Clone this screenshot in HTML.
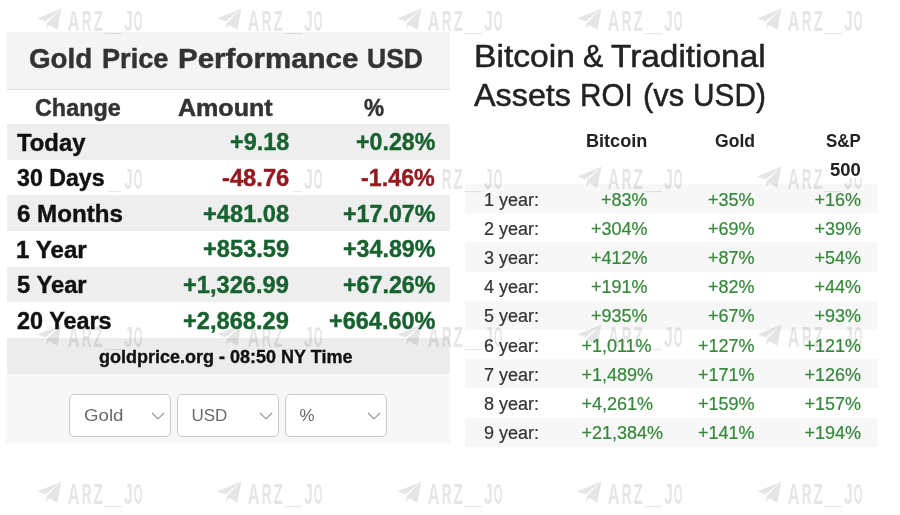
<!DOCTYPE html>
<html><head><meta charset="utf-8">
<style>
*{margin:0;padding:0;box-sizing:border-box}
html,body{width:900px;height:515px;overflow:hidden;background:#fff}
body{position:relative;font-family:"Liberation Sans",Arial,sans-serif}
.a{position:absolute;white-space:nowrap;line-height:20px}
.box{position:absolute}
.lh{left:7px;top:32px;width:443px;height:58px;background:#f4f4f4;border-bottom:1px solid #dcdcdc}
.lt{font-weight:bold;color:#333;-webkit-text-stroke:0.45px #333}
.band{left:7px;width:443px;background:#eeeeee}
.lab{font-weight:bold;color:#111;font-size:23.5px;-webkit-text-stroke:0.4px #111}
.g{color:#17622e;-webkit-text-stroke:0.4px #17622e}
.r{color:#951a20;-webkit-text-stroke:0.4px #951a20}
.num{font-weight:bold;font-size:23.5px;text-align:right}
.sel{position:absolute;top:394px;width:102px;height:43px;background:#fff;border:1px solid #c8c8c8;border-radius:5px}
.sel span{position:absolute;left:13.5px;top:10.5px;font-size:17px;line-height:20px;color:#6a6a6a}
.sel svg{position:absolute;right:5px;top:17px}
.rt{font-size:32px;color:#222;-webkit-text-stroke:0.5px #222}
.rh{font-weight:bold;font-size:17.5px;color:#222;text-align:right}
.rb{left:465px;width:413px;background:#f7f7f7}
.rl{font-size:18px;color:#333;-webkit-text-stroke:0.2px #333}
.rv{font-size:18px;color:#35883a;text-align:right;-webkit-text-stroke:0.2px #35883a}
.rvl{font-size:18px;color:#35883a;-webkit-text-stroke:0.2px #35883a}
.wm{position:absolute;fill:rgba(0,0,0,0.1);font-family:"Liberation Sans",Arial,sans-serif;font-weight:bold;font-size:28.6px}
</style></head><body>
<div class="box lh"></div>
<div class="box band" style="top:124.0px;height:35.7px"></div>
<div class="box band" style="top:195.4px;height:35.7px"></div>
<div class="box band" style="top:266.8px;height:35.7px"></div>
<div class="box" style="left:7px;top:338px;width:443px;height:36px;background:#ececec"></div>
<div class="box" style="left:6px;top:374px;width:444px;height:69px;background:#f7f7f7"></div>
<div class="box rb" style="top:184.0px;height:29.2px"></div>
<div class="box rb" style="top:242.4px;height:29.2px"></div>
<div class="box rb" style="top:300.8px;height:29.2px"></div>
<div class="box rb" style="top:359.2px;height:29.2px"></div>
<div class="box rb" style="top:417.6px;height:29.2px"></div>
<svg class="wm" style="left:34px;top:6.3px" width="112" height="32" viewBox="0 0 112 32"><path d="M27.5 2.6 L3.2 12.5 L11.5 15.5 Z M27.5 2.6 L13 16.8 L12 23 L15.5 19 L23.4 24 Z"/><text x="33.7" y="24.6" textLength="11.7" lengthAdjust="spacingAndGlyphs">A</text><text x="47.8" y="24.6" textLength="9.8" lengthAdjust="spacingAndGlyphs">R</text><text x="59.5" y="24.6" textLength="9.3" lengthAdjust="spacingAndGlyphs">Z</text><text x="71.1" y="25.0" textLength="16.3" lengthAdjust="spacingAndGlyphs">_</text><text x="89.9" y="24.6" textLength="8.8" lengthAdjust="spacingAndGlyphs">J</text><text x="99.7" y="24.6" textLength="8.8" lengthAdjust="spacingAndGlyphs">O</text></svg>
<svg class="wm" style="left:214px;top:6.3px" width="112" height="32" viewBox="0 0 112 32"><path d="M27.5 2.6 L3.2 12.5 L11.5 15.5 Z M27.5 2.6 L13 16.8 L12 23 L15.5 19 L23.4 24 Z"/><text x="33.7" y="24.6" textLength="11.7" lengthAdjust="spacingAndGlyphs">A</text><text x="47.8" y="24.6" textLength="9.8" lengthAdjust="spacingAndGlyphs">R</text><text x="59.5" y="24.6" textLength="9.3" lengthAdjust="spacingAndGlyphs">Z</text><text x="71.1" y="25.0" textLength="16.3" lengthAdjust="spacingAndGlyphs">_</text><text x="89.9" y="24.6" textLength="8.8" lengthAdjust="spacingAndGlyphs">J</text><text x="99.7" y="24.6" textLength="8.8" lengthAdjust="spacingAndGlyphs">O</text></svg>
<svg class="wm" style="left:394px;top:6.3px" width="112" height="32" viewBox="0 0 112 32"><path d="M27.5 2.6 L3.2 12.5 L11.5 15.5 Z M27.5 2.6 L13 16.8 L12 23 L15.5 19 L23.4 24 Z"/><text x="33.7" y="24.6" textLength="11.7" lengthAdjust="spacingAndGlyphs">A</text><text x="47.8" y="24.6" textLength="9.8" lengthAdjust="spacingAndGlyphs">R</text><text x="59.5" y="24.6" textLength="9.3" lengthAdjust="spacingAndGlyphs">Z</text><text x="71.1" y="25.0" textLength="16.3" lengthAdjust="spacingAndGlyphs">_</text><text x="89.9" y="24.6" textLength="8.8" lengthAdjust="spacingAndGlyphs">J</text><text x="99.7" y="24.6" textLength="8.8" lengthAdjust="spacingAndGlyphs">O</text></svg>
<svg class="wm" style="left:574px;top:6.3px" width="112" height="32" viewBox="0 0 112 32"><path d="M27.5 2.6 L3.2 12.5 L11.5 15.5 Z M27.5 2.6 L13 16.8 L12 23 L15.5 19 L23.4 24 Z"/><text x="33.7" y="24.6" textLength="11.7" lengthAdjust="spacingAndGlyphs">A</text><text x="47.8" y="24.6" textLength="9.8" lengthAdjust="spacingAndGlyphs">R</text><text x="59.5" y="24.6" textLength="9.3" lengthAdjust="spacingAndGlyphs">Z</text><text x="71.1" y="25.0" textLength="16.3" lengthAdjust="spacingAndGlyphs">_</text><text x="89.9" y="24.6" textLength="8.8" lengthAdjust="spacingAndGlyphs">J</text><text x="99.7" y="24.6" textLength="8.8" lengthAdjust="spacingAndGlyphs">O</text></svg>
<svg class="wm" style="left:754px;top:6.3px" width="112" height="32" viewBox="0 0 112 32"><path d="M27.5 2.6 L3.2 12.5 L11.5 15.5 Z M27.5 2.6 L13 16.8 L12 23 L15.5 19 L23.4 24 Z"/><text x="33.7" y="24.6" textLength="11.7" lengthAdjust="spacingAndGlyphs">A</text><text x="47.8" y="24.6" textLength="9.8" lengthAdjust="spacingAndGlyphs">R</text><text x="59.5" y="24.6" textLength="9.3" lengthAdjust="spacingAndGlyphs">Z</text><text x="71.1" y="25.0" textLength="16.3" lengthAdjust="spacingAndGlyphs">_</text><text x="89.9" y="24.6" textLength="8.8" lengthAdjust="spacingAndGlyphs">J</text><text x="99.7" y="24.6" textLength="8.8" lengthAdjust="spacingAndGlyphs">O</text></svg>
<svg class="wm" style="left:34px;top:164.0px" width="112" height="32" viewBox="0 0 112 32"><path d="M27.5 2.6 L3.2 12.5 L11.5 15.5 Z M27.5 2.6 L13 16.8 L12 23 L15.5 19 L23.4 24 Z"/><text x="33.7" y="24.6" textLength="11.7" lengthAdjust="spacingAndGlyphs">A</text><text x="47.8" y="24.6" textLength="9.8" lengthAdjust="spacingAndGlyphs">R</text><text x="59.5" y="24.6" textLength="9.3" lengthAdjust="spacingAndGlyphs">Z</text><text x="71.1" y="25.0" textLength="16.3" lengthAdjust="spacingAndGlyphs">_</text><text x="89.9" y="24.6" textLength="8.8" lengthAdjust="spacingAndGlyphs">J</text><text x="99.7" y="24.6" textLength="8.8" lengthAdjust="spacingAndGlyphs">O</text></svg>
<svg class="wm" style="left:214px;top:164.0px" width="112" height="32" viewBox="0 0 112 32"><path d="M27.5 2.6 L3.2 12.5 L11.5 15.5 Z M27.5 2.6 L13 16.8 L12 23 L15.5 19 L23.4 24 Z"/><text x="33.7" y="24.6" textLength="11.7" lengthAdjust="spacingAndGlyphs">A</text><text x="47.8" y="24.6" textLength="9.8" lengthAdjust="spacingAndGlyphs">R</text><text x="59.5" y="24.6" textLength="9.3" lengthAdjust="spacingAndGlyphs">Z</text><text x="71.1" y="25.0" textLength="16.3" lengthAdjust="spacingAndGlyphs">_</text><text x="89.9" y="24.6" textLength="8.8" lengthAdjust="spacingAndGlyphs">J</text><text x="99.7" y="24.6" textLength="8.8" lengthAdjust="spacingAndGlyphs">O</text></svg>
<svg class="wm" style="left:394px;top:164.0px" width="112" height="32" viewBox="0 0 112 32"><path d="M27.5 2.6 L3.2 12.5 L11.5 15.5 Z M27.5 2.6 L13 16.8 L12 23 L15.5 19 L23.4 24 Z"/><text x="33.7" y="24.6" textLength="11.7" lengthAdjust="spacingAndGlyphs">A</text><text x="47.8" y="24.6" textLength="9.8" lengthAdjust="spacingAndGlyphs">R</text><text x="59.5" y="24.6" textLength="9.3" lengthAdjust="spacingAndGlyphs">Z</text><text x="71.1" y="25.0" textLength="16.3" lengthAdjust="spacingAndGlyphs">_</text><text x="89.9" y="24.6" textLength="8.8" lengthAdjust="spacingAndGlyphs">J</text><text x="99.7" y="24.6" textLength="8.8" lengthAdjust="spacingAndGlyphs">O</text></svg>
<svg class="wm" style="left:574px;top:164.0px" width="112" height="32" viewBox="0 0 112 32"><path d="M27.5 2.6 L3.2 12.5 L11.5 15.5 Z M27.5 2.6 L13 16.8 L12 23 L15.5 19 L23.4 24 Z"/><text x="33.7" y="24.6" textLength="11.7" lengthAdjust="spacingAndGlyphs">A</text><text x="47.8" y="24.6" textLength="9.8" lengthAdjust="spacingAndGlyphs">R</text><text x="59.5" y="24.6" textLength="9.3" lengthAdjust="spacingAndGlyphs">Z</text><text x="71.1" y="25.0" textLength="16.3" lengthAdjust="spacingAndGlyphs">_</text><text x="89.9" y="24.6" textLength="8.8" lengthAdjust="spacingAndGlyphs">J</text><text x="99.7" y="24.6" textLength="8.8" lengthAdjust="spacingAndGlyphs">O</text></svg>
<svg class="wm" style="left:754px;top:164.0px" width="112" height="32" viewBox="0 0 112 32"><path d="M27.5 2.6 L3.2 12.5 L11.5 15.5 Z M27.5 2.6 L13 16.8 L12 23 L15.5 19 L23.4 24 Z"/><text x="33.7" y="24.6" textLength="11.7" lengthAdjust="spacingAndGlyphs">A</text><text x="47.8" y="24.6" textLength="9.8" lengthAdjust="spacingAndGlyphs">R</text><text x="59.5" y="24.6" textLength="9.3" lengthAdjust="spacingAndGlyphs">Z</text><text x="71.1" y="25.0" textLength="16.3" lengthAdjust="spacingAndGlyphs">_</text><text x="89.9" y="24.6" textLength="8.8" lengthAdjust="spacingAndGlyphs">J</text><text x="99.7" y="24.6" textLength="8.8" lengthAdjust="spacingAndGlyphs">O</text></svg>
<svg class="wm" style="left:34px;top:321.7px" width="112" height="32" viewBox="0 0 112 32"><path d="M27.5 2.6 L3.2 12.5 L11.5 15.5 Z M27.5 2.6 L13 16.8 L12 23 L15.5 19 L23.4 24 Z"/><text x="33.7" y="24.6" textLength="11.7" lengthAdjust="spacingAndGlyphs">A</text><text x="47.8" y="24.6" textLength="9.8" lengthAdjust="spacingAndGlyphs">R</text><text x="59.5" y="24.6" textLength="9.3" lengthAdjust="spacingAndGlyphs">Z</text><text x="71.1" y="25.0" textLength="16.3" lengthAdjust="spacingAndGlyphs">_</text><text x="89.9" y="24.6" textLength="8.8" lengthAdjust="spacingAndGlyphs">J</text><text x="99.7" y="24.6" textLength="8.8" lengthAdjust="spacingAndGlyphs">O</text></svg>
<svg class="wm" style="left:214px;top:321.7px" width="112" height="32" viewBox="0 0 112 32"><path d="M27.5 2.6 L3.2 12.5 L11.5 15.5 Z M27.5 2.6 L13 16.8 L12 23 L15.5 19 L23.4 24 Z"/><text x="33.7" y="24.6" textLength="11.7" lengthAdjust="spacingAndGlyphs">A</text><text x="47.8" y="24.6" textLength="9.8" lengthAdjust="spacingAndGlyphs">R</text><text x="59.5" y="24.6" textLength="9.3" lengthAdjust="spacingAndGlyphs">Z</text><text x="71.1" y="25.0" textLength="16.3" lengthAdjust="spacingAndGlyphs">_</text><text x="89.9" y="24.6" textLength="8.8" lengthAdjust="spacingAndGlyphs">J</text><text x="99.7" y="24.6" textLength="8.8" lengthAdjust="spacingAndGlyphs">O</text></svg>
<svg class="wm" style="left:394px;top:321.7px" width="112" height="32" viewBox="0 0 112 32"><path d="M27.5 2.6 L3.2 12.5 L11.5 15.5 Z M27.5 2.6 L13 16.8 L12 23 L15.5 19 L23.4 24 Z"/><text x="33.7" y="24.6" textLength="11.7" lengthAdjust="spacingAndGlyphs">A</text><text x="47.8" y="24.6" textLength="9.8" lengthAdjust="spacingAndGlyphs">R</text><text x="59.5" y="24.6" textLength="9.3" lengthAdjust="spacingAndGlyphs">Z</text><text x="71.1" y="25.0" textLength="16.3" lengthAdjust="spacingAndGlyphs">_</text><text x="89.9" y="24.6" textLength="8.8" lengthAdjust="spacingAndGlyphs">J</text><text x="99.7" y="24.6" textLength="8.8" lengthAdjust="spacingAndGlyphs">O</text></svg>
<svg class="wm" style="left:574px;top:321.7px" width="112" height="32" viewBox="0 0 112 32"><path d="M27.5 2.6 L3.2 12.5 L11.5 15.5 Z M27.5 2.6 L13 16.8 L12 23 L15.5 19 L23.4 24 Z"/><text x="33.7" y="24.6" textLength="11.7" lengthAdjust="spacingAndGlyphs">A</text><text x="47.8" y="24.6" textLength="9.8" lengthAdjust="spacingAndGlyphs">R</text><text x="59.5" y="24.6" textLength="9.3" lengthAdjust="spacingAndGlyphs">Z</text><text x="71.1" y="25.0" textLength="16.3" lengthAdjust="spacingAndGlyphs">_</text><text x="89.9" y="24.6" textLength="8.8" lengthAdjust="spacingAndGlyphs">J</text><text x="99.7" y="24.6" textLength="8.8" lengthAdjust="spacingAndGlyphs">O</text></svg>
<svg class="wm" style="left:754px;top:321.7px" width="112" height="32" viewBox="0 0 112 32"><path d="M27.5 2.6 L3.2 12.5 L11.5 15.5 Z M27.5 2.6 L13 16.8 L12 23 L15.5 19 L23.4 24 Z"/><text x="33.7" y="24.6" textLength="11.7" lengthAdjust="spacingAndGlyphs">A</text><text x="47.8" y="24.6" textLength="9.8" lengthAdjust="spacingAndGlyphs">R</text><text x="59.5" y="24.6" textLength="9.3" lengthAdjust="spacingAndGlyphs">Z</text><text x="71.1" y="25.0" textLength="16.3" lengthAdjust="spacingAndGlyphs">_</text><text x="89.9" y="24.6" textLength="8.8" lengthAdjust="spacingAndGlyphs">J</text><text x="99.7" y="24.6" textLength="8.8" lengthAdjust="spacingAndGlyphs">O</text></svg>
<svg class="wm" style="left:34px;top:479.4px" width="112" height="32" viewBox="0 0 112 32"><path d="M27.5 2.6 L3.2 12.5 L11.5 15.5 Z M27.5 2.6 L13 16.8 L12 23 L15.5 19 L23.4 24 Z"/><text x="33.7" y="24.6" textLength="11.7" lengthAdjust="spacingAndGlyphs">A</text><text x="47.8" y="24.6" textLength="9.8" lengthAdjust="spacingAndGlyphs">R</text><text x="59.5" y="24.6" textLength="9.3" lengthAdjust="spacingAndGlyphs">Z</text><text x="71.1" y="25.0" textLength="16.3" lengthAdjust="spacingAndGlyphs">_</text><text x="89.9" y="24.6" textLength="8.8" lengthAdjust="spacingAndGlyphs">J</text><text x="99.7" y="24.6" textLength="8.8" lengthAdjust="spacingAndGlyphs">O</text></svg>
<svg class="wm" style="left:214px;top:479.4px" width="112" height="32" viewBox="0 0 112 32"><path d="M27.5 2.6 L3.2 12.5 L11.5 15.5 Z M27.5 2.6 L13 16.8 L12 23 L15.5 19 L23.4 24 Z"/><text x="33.7" y="24.6" textLength="11.7" lengthAdjust="spacingAndGlyphs">A</text><text x="47.8" y="24.6" textLength="9.8" lengthAdjust="spacingAndGlyphs">R</text><text x="59.5" y="24.6" textLength="9.3" lengthAdjust="spacingAndGlyphs">Z</text><text x="71.1" y="25.0" textLength="16.3" lengthAdjust="spacingAndGlyphs">_</text><text x="89.9" y="24.6" textLength="8.8" lengthAdjust="spacingAndGlyphs">J</text><text x="99.7" y="24.6" textLength="8.8" lengthAdjust="spacingAndGlyphs">O</text></svg>
<svg class="wm" style="left:394px;top:479.4px" width="112" height="32" viewBox="0 0 112 32"><path d="M27.5 2.6 L3.2 12.5 L11.5 15.5 Z M27.5 2.6 L13 16.8 L12 23 L15.5 19 L23.4 24 Z"/><text x="33.7" y="24.6" textLength="11.7" lengthAdjust="spacingAndGlyphs">A</text><text x="47.8" y="24.6" textLength="9.8" lengthAdjust="spacingAndGlyphs">R</text><text x="59.5" y="24.6" textLength="9.3" lengthAdjust="spacingAndGlyphs">Z</text><text x="71.1" y="25.0" textLength="16.3" lengthAdjust="spacingAndGlyphs">_</text><text x="89.9" y="24.6" textLength="8.8" lengthAdjust="spacingAndGlyphs">J</text><text x="99.7" y="24.6" textLength="8.8" lengthAdjust="spacingAndGlyphs">O</text></svg>
<svg class="wm" style="left:574px;top:479.4px" width="112" height="32" viewBox="0 0 112 32"><path d="M27.5 2.6 L3.2 12.5 L11.5 15.5 Z M27.5 2.6 L13 16.8 L12 23 L15.5 19 L23.4 24 Z"/><text x="33.7" y="24.6" textLength="11.7" lengthAdjust="spacingAndGlyphs">A</text><text x="47.8" y="24.6" textLength="9.8" lengthAdjust="spacingAndGlyphs">R</text><text x="59.5" y="24.6" textLength="9.3" lengthAdjust="spacingAndGlyphs">Z</text><text x="71.1" y="25.0" textLength="16.3" lengthAdjust="spacingAndGlyphs">_</text><text x="89.9" y="24.6" textLength="8.8" lengthAdjust="spacingAndGlyphs">J</text><text x="99.7" y="24.6" textLength="8.8" lengthAdjust="spacingAndGlyphs">O</text></svg>
<svg class="wm" style="left:754px;top:479.4px" width="112" height="32" viewBox="0 0 112 32"><path d="M27.5 2.6 L3.2 12.5 L11.5 15.5 Z M27.5 2.6 L13 16.8 L12 23 L15.5 19 L23.4 24 Z"/><text x="33.7" y="24.6" textLength="11.7" lengthAdjust="spacingAndGlyphs">A</text><text x="47.8" y="24.6" textLength="9.8" lengthAdjust="spacingAndGlyphs">R</text><text x="59.5" y="24.6" textLength="9.3" lengthAdjust="spacingAndGlyphs">Z</text><text x="71.1" y="25.0" textLength="16.3" lengthAdjust="spacingAndGlyphs">_</text><text x="89.9" y="24.6" textLength="8.8" lengthAdjust="spacingAndGlyphs">J</text><text x="99.7" y="24.6" textLength="8.8" lengthAdjust="spacingAndGlyphs">O</text></svg>
<div class="box" style="left:14px;top:160px;width:94px;height:34px;background:#fff"></div>
<div class="box" style="left:212px;top:160px;width:81px;height:34px;background:#fff"></div>
<div class="box" style="left:355px;top:160px;width:84px;height:34px;background:#fff"></div>
<div class="box" style="left:824px;top:158px;width:42px;height:20px;background:#fff"></div>
<div class="a lt" style="left:29.28px;top:48.70px;font-size:27.1px;font-weight:bold;transform:scaleX(1.0245);transform-origin:0 0;">Gold</div>
<div class="a lt" style="left:101.70px;top:48.70px;font-size:27.1px;font-weight:bold;transform:scaleX(1.0014);transform-origin:0 0;">Price</div>
<div class="a lt" style="left:177.81px;top:48.70px;font-size:27.1px;font-weight:bold;transform:scaleX(1.0889);transform-origin:0 0;">Performance</div>
<div class="a lt" style="left:366.92px;top:48.70px;font-size:27.1px;font-weight:bold;transform:scaleX(0.9796);transform-origin:0 0;">USD</div>
<div class="a lt" style="left:35.00px;top:97.50px;font-size:23.5px;font-weight:bold;transform:scaleX(0.9941);transform-origin:0 0;">Change</div>
<div class="a lt" style="left:177.90px;top:97.80px;font-size:23.5px;font-weight:bold;transform:scaleX(1.0660);transform-origin:0 0;">Amount</div>
<div class="a lt" style="left:363.80px;top:97.80px;font-size:23.5px;font-weight:bold;transform:scaleX(0.9619);transform-origin:0 0;">%</div>
<div class="a lab" style="left:16.70px;top:132.60px;font-size:23.5px;font-weight:bold;transform:scaleX(1.0150);transform-origin:0 0;">Today</div>
<div class="a num g" style="left:229.70px;top:132.10px;font-size:23.5px;font-weight:bold;transform:scaleX(0.9985);transform-origin:0 0;">+9.18</div>
<div class="a num g" style="left:355.80px;top:132.10px;font-size:23.5px;font-weight:bold;transform:scaleX(0.9868);transform-origin:0 0;">+0.28%</div>
<div class="a lab" style="left:16.70px;top:168.30px;font-size:23.5px;font-weight:bold;transform:scaleX(0.9867);transform-origin:0 0;">30 Days</div>
<div class="a num r" style="left:221.80px;top:167.80px;font-size:23.5px;font-weight:bold;transform:scaleX(1.0096);transform-origin:0 0;">-48.76</div>
<div class="a num r" style="left:361.30px;top:167.80px;font-size:23.5px;font-weight:bold;transform:scaleX(0.9911);transform-origin:0 0;">-1.46%</div>
<div class="a lab" style="left:16.70px;top:204.00px;font-size:23.5px;font-weight:bold;transform:scaleX(1.0265);transform-origin:0 0;">6 Months</div>
<div class="a num g" style="left:202.90px;top:203.50px;font-size:23.5px;font-weight:bold;transform:scaleX(1.0067);transform-origin:0 0;">+481.08</div>
<div class="a num g" style="left:342.70px;top:203.50px;font-size:23.5px;font-weight:bold;transform:scaleX(0.9890);transform-origin:0 0;">+17.07%</div>
<div class="a lab" style="left:15.67px;top:239.70px;font-size:23.5px;font-weight:bold;transform:scaleX(1.0277);transform-origin:0 0;">1 Year</div>
<div class="a num g" style="left:202.90px;top:239.20px;font-size:23.5px;font-weight:bold;transform:scaleX(1.0067);transform-origin:0 0;">+853.59</div>
<div class="a num g" style="left:342.70px;top:239.20px;font-size:23.5px;font-weight:bold;transform:scaleX(0.9890);transform-origin:0 0;">+34.89%</div>
<div class="a lab" style="left:16.70px;top:275.40px;font-size:23.5px;font-weight:bold;transform:scaleX(1.0114);transform-origin:0 0;">5 Year</div>
<div class="a num g" style="left:183.30px;top:274.90px;font-size:23.5px;font-weight:bold;transform:scaleX(1.0054);transform-origin:0 0;">+1,326.99</div>
<div class="a num g" style="left:342.70px;top:274.90px;font-size:23.5px;font-weight:bold;transform:scaleX(0.9890);transform-origin:0 0;">+67.26%</div>
<div class="a lab" style="left:16.70px;top:311.10px;font-size:23.5px;font-weight:bold;transform:scaleX(0.9965);transform-origin:0 0;">20 Years</div>
<div class="a num g" style="left:183.30px;top:310.60px;font-size:23.5px;font-weight:bold;transform:scaleX(1.0054);transform-origin:0 0;">+2,868.29</div>
<div class="a num g" style="left:328.70px;top:310.60px;font-size:23.5px;font-weight:bold;transform:scaleX(0.9991);transform-origin:0 0;">+664.60%</div>
<div class="a" style="left:99px;top:346.8px;font-size:18px;font-weight:bold;color:#111;-webkit-text-stroke:0.35px #111">goldprice.org - 08:50 NY Time</div>
<div class="sel" style="left:69px"><span style="transform:scaleX(1.1);transform-origin:0 0">Gold</span><svg width="14" height="9" viewBox="0 0 14 9"><path d="M1 1 L7 7 L13 1" fill="none" stroke="#999" stroke-width="1.2"/></svg></div>
<div class="sel" style="left:177px"><span>USD</span><svg width="14" height="9" viewBox="0 0 14 9"><path d="M1 1 L7 7 L13 1" fill="none" stroke="#999" stroke-width="1.2"/></svg></div>
<div class="sel" style="left:285px"><span>%</span><svg width="14" height="9" viewBox="0 0 14 9"><path d="M1 1 L7 7 L13 1" fill="none" stroke="#999" stroke-width="1.2"/></svg></div>
<div class="a rt" style="left:473.60px;top:46.30px;font-size:32px;font-weight:normal;transform:scaleX(1.0504);transform-origin:0 0;">Bitcoin</div>
<div class="a rt" style="left:582.85px;top:46.30px;font-size:32px;font-weight:normal;transform:scaleX(0.9500);transform-origin:0 0;">&amp;</div>
<div class="a rt" style="left:611.40px;top:46.30px;font-size:32px;font-weight:normal;transform:scaleX(1.0431);transform-origin:0 0;">Traditional</div>
<div class="a rt" style="left:473.90px;top:85.40px;font-size:32px;font-weight:normal;transform:scaleX(1.0102);transform-origin:0 0;">Assets</div>
<div class="a rt" style="left:580.45px;top:85.40px;font-size:32px;font-weight:normal;transform:scaleX(0.9250);transform-origin:0 0;">ROI</div>
<div class="a rt" style="left:642.84px;top:85.40px;font-size:32px;font-weight:normal;transform:scaleX(0.9617);transform-origin:0 0;">(vs</div>
<div class="a rt" style="left:692.54px;top:85.40px;font-size:32px;font-weight:normal;transform:scaleX(0.9308);transform-origin:0 0;">USD)</div>
<div class="a rh" style="left:586.47px;top:131.30px;font-size:17.5px;font-weight:bold;transform:scaleX(1.0328);transform-origin:0 0;">Bitcoin</div>
<div class="a rh" style="left:715.10px;top:131.30px;font-size:17.5px;font-weight:bold;transform:scaleX(1.0035);transform-origin:0 0;">Gold</div>
<div class="a rh" style="left:825.80px;top:131.30px;font-size:17.5px;font-weight:bold;transform:scaleX(0.9639);transform-origin:0 0;">S&amp;P</div>
<div class="a rh" style="left:829.70px;top:160.20px;font-size:17.5px;font-weight:bold;transform:scaleX(1.0555);transform-origin:0 0;">500</div>
<div class="a rl" style="left:484px;top:189.6px">1 year:</div>
<div class="a rv" style="right:252.5px;top:189.6px">+83%</div>
<div class="a rv" style="right:145.5px;top:189.6px">+35%</div>
<div class="a rv" style="right:39px;top:189.6px">+16%</div>
<div class="a rl" style="left:484px;top:218.8px">2 year:</div>
<div class="a rv" style="right:252.5px;top:218.8px">+304%</div>
<div class="a rv" style="right:145.5px;top:218.8px">+69%</div>
<div class="a rv" style="right:39px;top:218.8px">+39%</div>
<div class="a rl" style="left:484px;top:248.0px">3 year:</div>
<div class="a rv" style="right:252.5px;top:248.0px">+412%</div>
<div class="a rv" style="right:145.5px;top:248.0px">+87%</div>
<div class="a rv" style="right:39px;top:248.0px">+54%</div>
<div class="a rl" style="left:484px;top:277.2px">4 year:</div>
<div class="a rv" style="right:252.5px;top:277.2px">+191%</div>
<div class="a rv" style="right:145.5px;top:277.2px">+82%</div>
<div class="a rv" style="right:39px;top:277.2px">+44%</div>
<div class="a rl" style="left:484px;top:306.4px">5 year:</div>
<div class="a rv" style="right:252.5px;top:306.4px">+935%</div>
<div class="a rv" style="right:145.5px;top:306.4px">+67%</div>
<div class="a rv" style="right:39px;top:306.4px">+93%</div>
<div class="a rl" style="left:484px;top:335.6px">6 year:</div>
<div class="a rvl" style="left:581.4px;top:335.6px">+1,011%</div>
<div class="a rv" style="right:145.5px;top:335.6px">+127%</div>
<div class="a rv" style="right:39px;top:335.6px">+121%</div>
<div class="a rl" style="left:484px;top:364.8px">7 year:</div>
<div class="a rvl" style="left:581.4px;top:364.8px">+1,489%</div>
<div class="a rv" style="right:145.5px;top:364.8px">+171%</div>
<div class="a rv" style="right:39px;top:364.8px">+126%</div>
<div class="a rl" style="left:484px;top:394.0px">8 year:</div>
<div class="a rvl" style="left:581.4px;top:394.0px">+4,261%</div>
<div class="a rv" style="right:145.5px;top:394.0px">+159%</div>
<div class="a rv" style="right:39px;top:394.0px">+157%</div>
<div class="a rl" style="left:484px;top:423.2px">9 year:</div>
<div class="a rvl" style="left:581.4px;top:423.2px">+21,384%</div>
<div class="a rv" style="right:145.5px;top:423.2px">+141%</div>
<div class="a rv" style="right:39px;top:423.2px">+194%</div>
</body></html>
